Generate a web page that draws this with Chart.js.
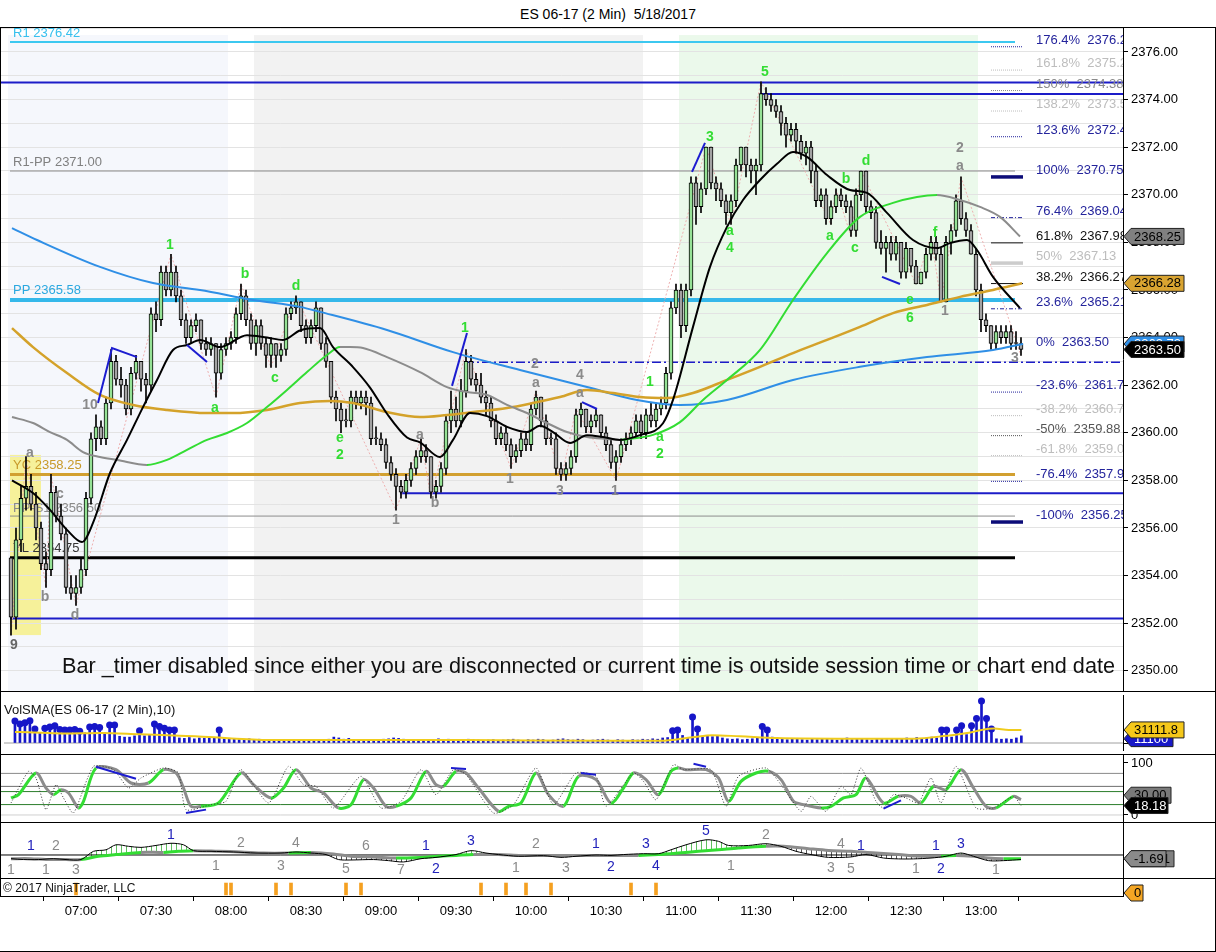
<!DOCTYPE html>
<html>
<head>
<meta charset="utf-8">
<title>ES 06-17 (2 Min) 5/18/2017</title>
<script src="https://cdn.jsdelivr.net/npm/chart.js@4.4.1/dist/chart.umd.min.js"></script>
<style>
  html, body { margin: 0; padding: 0; background: #fff; }
  #wrap { position: relative; width: 1216px; height: 952px; overflow: hidden; font-family: 'Liberation Sans', Arial, sans-serif; }
  #title { position: absolute; top: 6px; left: 0; width: 1216px; text-align: center; font-size: 14px; color: #000; }
  canvas { position: absolute; left: 0; }
  .rule { position: absolute; background: #000; }
</style>
</head>
<body>
<div id="wrap">
  <div id="title">ES 06-17 (2 Min)&nbsp; 5/18/2017</div>
  <canvas id="mainChart" width="1216" height="664" style="top:27px"></canvas>
  <canvas id="volChart" width="1216" height="63" style="top:691px"></canvas>
  <canvas id="stochChart" width="1216" height="68" style="top:754px"></canvas>
  <canvas id="macdChart" width="1216" height="56" style="top:822px"></canvas>
  <canvas id="stripChart" width="1216" height="74" style="top:878px"></canvas>
  <div class="rule" style="left:0;top:27px;width:1216px;height:1px"></div>
  <div class="rule" style="left:0;top:691px;width:1216px;height:1px"></div>
  <div class="rule" style="left:0;top:754px;width:1216px;height:1px"></div>
  <div class="rule" style="left:0;top:822px;width:1216px;height:1px"></div>
  <div class="rule" style="left:0;top:878px;width:1216px;height:1px"></div>
  <div class="rule" style="left:0;top:896px;width:1124px;height:1px"></div>
  <div class="rule" style="left:0;top:951px;width:1216px;height:1px"></div>
  <div class="rule" style="left:0;top:27px;width:1px;height:869px"></div>
  <div class="rule" style="left:1215px;top:27px;width:1px;height:925px"></div>
</div>
<script>
// time is kept in minutes after midnight, bars every 2 minutes from 06:32
const firstBarMinute = 6 * 60 + 32;
const barMinutes = 2;
const xMin = 387.6, xMax = 836.8;
const timeTicks = [420, 450, 480, 510, 540, 570, 600, 630, 660, 690, 720, 750, 780];
const priceGridLines = [2350, 2351, 2352, 2353, 2354, 2355, 2356, 2357, 2358, 2359, 2360, 2361, 2362, 2363,
  2364, 2365, 2366, 2367, 2368, 2369, 2370, 2371, 2372, 2373, 2374, 2375, 2376, 2377];

// ---- 2 min bars ----
const opens = [
  2354.75,2352.25,2355.5,2357.25,2357.75,2357.0,2356.0,2354.5,2354.25,2357.5,
  2356.5,2355.75,2353.5,2353.25,2353.5,2354.25,2357.25,2359.75,2360.25,2359.75,
  2361.25,2363.0,2362.25,2362.0,2361.0,2362.5,2363.0,2362.25,2362.0,2365.0,
  2364.75,2366.75,2366.0,2366.75,2365.75,2364.75,2364.0,2364.5,2364.75,2363.75,
  2363.5,2363.75,2362.5,2363.5,2363.75,2364.0,2365.0,2365.75,2364.75,2363.75,
  2364.5,2363.75,2363.25,2363.75,2363.25,2363.5,2365.0,2365.25,2365.5,2364.5,
  2364.0,2364.5,2365.25,2363.75,2363.0,2361.5,2361.0,2360.5,2360.5,2361.5,
  2361.25,2361.5,2361.25,2359.75,2359.75,2359.5,2358.75,2358.25,2357.75,2357.5,
  2358.0,2358.5,2359.0,2359.25,2359.0,2357.5,2357.75,2358.5,2360.5,2361.0,
  2360.5,2361.75,2363.0,2362.25,2362.0,2361.5,2361.25,2360.5,2359.75,2360.0,
  2359.5,2359.0,2359.25,2359.75,2359.5,2361.0,2361.5,2360.5,2359.75,2359.75,
  2358.5,2358.25,2358.5,2359.0,2360.75,2361.0,2360.25,2360.5,2360.75,2360.0,
  2359.5,2358.75,2359.0,2359.5,2359.75,2360.0,2360.5,2360.0,2360.75,2360.5,
  2361.0,2361.25,2362.5,2365.25,2366.0,2364.5,2366.0,2370.5,2369.5,2370.25,
  2372.0,2370.5,2370.25,2369.75,2369.25,2369.75,2371.25,2372.0,2371.25,2371.0,
  2371.25,2374.25,2374.0,2373.75,2373.5,2373.0,2372.5,2372.75,2372.25,2371.75,
  2372.0,2371.0,2369.75,2370.0,2369.0,2369.5,2370.0,2369.75,2369.5,2368.5,
  2370.0,2371.0,2369.5,2369.25,2368.0,2367.75,2368.0,2367.5,2368.0,2366.75,
  2367.75,2367.0,2366.25,2366.75,2367.5,2368.0,2367.5,2365.5,2368.0,2368.5,
  2369.75,2369.0,2368.5,2367.5,2366.0,2364.75,2364.5,2363.75,2364.25,2364.0,
  2364.25,2363.75,2363.75
];
const highs = [
  2354.75,2356.0,2357.75,2359.0,2358.25,2357.5,2356.25,2355.0,2358.25,2357.75,
  2357.0,2356.0,2354.0,2354.0,2354.75,2357.5,2360.0,2360.75,2360.5,2361.5,
  2363.5,2363.25,2362.75,2362.25,2362.75,2363.25,2363.0,2362.5,2365.25,2365.5,
  2367.0,2367.0,2367.5,2367.0,2366.0,2365.0,2364.75,2365.0,2364.75,2364.0,
  2364.0,2363.75,2363.75,2364.0,2364.25,2365.25,2366.25,2366.0,2365.0,2364.75,
  2364.75,2364.0,2364.0,2363.75,2363.75,2365.25,2365.5,2365.75,2365.5,2364.75,
  2364.75,2365.5,2365.25,2364.0,2363.0,2361.75,2361.25,2361.0,2361.75,2361.75,
  2361.75,2361.75,2361.5,2360.25,2360.0,2359.75,2359.0,2358.5,2358.0,2358.25,
  2358.75,2359.25,2359.75,2359.5,2359.0,2358.0,2358.75,2360.75,2361.75,2361.5,
  2362.25,2363.5,2363.25,2362.5,2362.5,2361.75,2361.5,2360.75,2360.25,2360.25,
  2359.75,2359.5,2360.0,2360.0,2361.25,2361.75,2361.5,2360.75,2360.0,2360.0,
  2358.75,2358.75,2359.25,2361.0,2361.25,2361.0,2360.75,2361.0,2360.75,2360.25,
  2359.75,2359.25,2359.75,2360.0,2360.25,2360.75,2360.75,2361.0,2361.25,2361.25,
  2361.5,2362.75,2365.5,2366.25,2366.25,2366.25,2370.75,2370.75,2370.5,2372.0,
  2372.0,2370.75,2370.5,2370.0,2370.0,2371.5,2372.0,2372.0,2371.5,2371.5,
  2374.75,2374.5,2374.25,2374.0,2373.75,2373.25,2373.0,2373.0,2372.5,2372.25,
  2372.25,2371.25,2370.25,2370.25,2369.75,2370.25,2370.25,2370.0,2369.75,2370.25,
  2371.0,2371.0,2369.75,2369.5,2368.5,2368.25,2368.25,2368.25,2368.0,2368.0,
  2367.75,2367.25,2366.75,2367.75,2368.25,2368.25,2367.75,2368.25,2368.75,2370.0,
  2370.75,2369.25,2368.75,2367.75,2366.25,2365.0,2364.5,2364.5,2364.5,2364.5,
  2364.5,2364.25,2364.0
];
const lows = [
  2351.5,2351.75,2355.0,2356.75,2356.75,2355.5,2354.25,2353.5,2354.0,2356.25,
  2355.5,2353.25,2353.0,2352.75,2353.25,2354.0,2357.0,2359.25,2359.5,2359.5,
  2361.0,2362.0,2361.5,2360.75,2360.75,2362.25,2361.75,2361.25,2361.75,2364.25,
  2364.5,2365.75,2365.75,2365.5,2364.5,2363.75,2363.75,2364.25,2363.5,2363.25,
  2363.25,2361.5,2362.25,2363.25,2363.5,2363.75,2364.75,2364.5,2363.5,2363.25,
  2363.5,2362.75,2362.75,2362.75,2363.0,2363.25,2364.75,2365.0,2364.25,2363.75,
  2363.75,2364.25,2363.5,2362.75,2361.25,2360.5,2360.0,2360.25,2360.25,2361.0,
  2361.0,2360.75,2359.5,2359.5,2359.25,2358.5,2358.0,2356.75,2357.25,2357.25,
  2357.75,2358.25,2358.75,2358.75,2357.25,2357.25,2357.5,2358.25,2360.0,2360.25,
  2360.25,2361.5,2362.0,2361.75,2361.25,2360.75,2360.25,2359.5,2359.5,2359.25,
  2358.5,2358.75,2359.0,2359.25,2359.25,2360.75,2360.25,2359.5,2359.5,2358.25,
  2358.0,2358.0,2358.25,2358.75,2360.25,2360.0,2360.0,2360.25,2359.75,2359.25,
  2358.5,2358.0,2358.75,2359.25,2359.5,2359.75,2359.75,2359.75,2360.25,2360.25,
  2360.75,2361.0,2362.25,2365.0,2364.0,2364.25,2365.75,2368.75,2369.25,2370.0,
  2370.25,2369.75,2369.5,2368.75,2368.75,2369.5,2371.0,2370.75,2370.5,2370.0,
  2371.0,2373.75,2373.5,2373.25,2372.5,2372.0,2372.25,2371.75,2371.5,2371.25,
  2370.5,2369.5,2369.5,2368.75,2368.75,2369.25,2369.5,2369.25,2368.25,2368.25,
  2369.75,2369.25,2369.0,2367.75,2367.5,2366.75,2367.25,2367.25,2366.5,2366.5,
  2366.75,2366.25,2366.25,2366.5,2367.25,2367.25,2365.5,2365.5,2367.5,2368.25,
  2368.75,2368.25,2367.5,2365.75,2364.25,2364.25,2363.5,2363.5,2363.75,2363.75,
  2363.5,2363.5,2363.25
];
const closes = [
  2352.25,2355.5,2357.25,2357.75,2357.0,2356.0,2354.5,2354.25,2357.5,2356.5,
  2355.75,2353.5,2353.25,2353.5,2354.25,2357.25,2359.75,2360.25,2359.75,2361.25,
  2363.0,2362.25,2362.0,2361.0,2362.5,2363.0,2362.25,2362.0,2365.0,2364.75,
  2366.75,2366.0,2366.75,2365.75,2364.75,2364.0,2364.5,2364.75,2363.75,2363.5,
  2363.75,2362.5,2363.5,2363.75,2364.0,2365.0,2365.75,2364.75,2363.75,2364.5,
  2363.75,2363.25,2363.75,2363.25,2363.5,2365.0,2365.25,2365.5,2364.5,2364.0,
  2364.5,2365.25,2363.75,2363.0,2361.5,2361.0,2360.5,2360.5,2361.5,2361.25,
  2361.5,2361.25,2359.75,2359.75,2359.5,2358.75,2358.25,2357.75,2357.5,2358.0,
  2358.5,2359.0,2359.25,2359.0,2357.5,2357.75,2358.5,2360.5,2361.0,2360.5,
  2361.75,2363.0,2362.25,2362.0,2361.5,2361.25,2360.5,2359.75,2360.0,2359.5,
  2359.0,2359.25,2359.75,2359.5,2361.0,2361.5,2360.5,2359.75,2359.75,2358.5,
  2358.25,2358.5,2359.0,2360.75,2361.0,2360.25,2360.5,2360.75,2360.0,2359.5,
  2358.75,2359.0,2359.5,2359.75,2360.0,2360.5,2360.0,2360.75,2360.5,2361.0,
  2361.25,2362.5,2365.25,2366.0,2364.5,2366.0,2370.5,2369.5,2370.25,2372.0,
  2370.5,2370.25,2369.75,2369.25,2369.75,2371.25,2372.0,2371.25,2371.0,2371.25,
  2374.25,2374.0,2373.75,2373.5,2373.0,2372.5,2372.75,2372.25,2371.75,2372.0,
  2371.0,2369.75,2370.0,2369.0,2369.5,2370.0,2369.75,2369.5,2368.5,2370.0,
  2371.0,2369.5,2369.25,2368.0,2367.75,2368.0,2367.5,2368.0,2366.75,2367.75,
  2367.0,2366.25,2366.75,2367.5,2368.0,2367.5,2365.5,2368.0,2368.5,2369.75,
  2369.0,2368.5,2367.5,2366.0,2364.75,2364.5,2363.75,2364.25,2364.0,2364.25,
  2363.75,2363.75,2363.5
];

// volume per bar, thousands of contracts
const volumes = [
  52,45,48,53,33,25,35,38,41,32, 31,31,32,28,24,38,39,37,24,43,
  43,16,14,14,17,29,17,19,45,39, 35,31,31,12,11,13,10,12,11,12,
  13,31,10,9,11,8,9,10,8,9, 7,8,7,6,7,8,6,7,6,5,
  7,6,8,9,14,12,9,11,8,7, 6,7,8,6,9,10,12,11,9,8,
  7,6,7,8,7,10,8,9,7,8, 6,9,8,7,6,7,8,6,7,8,
  9,7,6,8,7,9,8,6,7,9, 10,8,7,9,8,6,7,8,9,7,
  6,8,7,6,8,7,9,8,10,9, 12,13,29,31,18,12,62,33,14,16,
  15,16,12,10,9,10,8,9,10,12, 39,31,14,11,9,8,10,9,8,7,
  9,8,10,9,8,7,9,12,8,10, 9,8,7,9,10,8,9,11,10,12,
  11,13,10,12,14,12,31,31,14,31, 41,20,41,58,100,58,33,10,9,10,
  9,12,17
];
const volumeSpikeBars = [0,1,2,3,4,6,7,8,9,10,11,12,13,15,16,17,19,20,25,28,29,30,31,32,41,
  132,133,136,137,150,151,186,187,189,190,192,193,194,195,196];
const volSmaTimes = [392,397,411,427,442,458,472,481,497,528,574,628,651,664,672,683,698,722,753,766,775,780,785,791,796];
const volSmaValues = [26,25.5,22.8,24,20.7,17.3,13.8,10.4,6.9,6.9,6.9,5.5,5.5,13.8,18.6,15.9,11.7,10.4,10.4,17.3,24.2,31,34.5,31,31.1];

// ---- moving averages on the price pane ----
const fastMaTimes = [392.4,400.8,407.6,414.4,420.4,424.8,431.6,438.4,444.8,450.4,456.8,462.4,467.6,475.6,486.4,494.4,500.8,507.6,515.6,520.8,
  528.8,535.6,542.4,550.4,555.6,563.6,568.8,575.6,582.4,590.4,598.4,603.6,608.8,615.6,622.4,628.8,635.6,643.6,652.8,656.8,
  664.8,671.6,678.4,684.8,691.6,698.4,704.8,710.4,718.4,727.6,734.4,742.4,752.8,762.4,767.6,774.4,778.4,784.8,795.6];
const fastMaValues = [2358.0,2357.47,2356.76,2355.92,2355.41,2356.21,2358.31,2359.7,2361.08,2362.22,2363.48,2363.69,2363.9,2363.6,2364.1,2364.0,2363.9,2364.3,2364.4,2363.6,
  2362.76,2361.9,2360.8,2359.8,2359.6,2358.98,2359.7,2360.83,2360.7,2360.25,2360.03,2360.3,2360.03,2359.57,2359.9,2359.82,2359.7,2359.9,2360.4,2361.38,
  2364.45,2366.97,2368.65,2369.78,2370.62,2371.3,2371.8,2371.59,2370.83,2370.2,2370.08,2369.24,2368.1,2367.76,2367.97,2368.1,2367.68,2366.55,2365.24];
const slowMaTimes = [392.4,400.8,407.6,414.4,420.8,427.6,434.4,446.4,454.4,462.4,470.4,478.4,486.4,494.4,502.4,510.4,518.4,523.6,527.6,532.8,
  542.4,555.6,566.4,574.4,582.4,590.4,598.4,606.4,614.4,622.4,630.4,635.6,639.6,648.8,659.6,668.8,678.4,691.6,704.8,718.4,
  731.6,744.8,754.4,762.4,771.6,779.6,787.6,795.6];
const slowMaValues = [2360.66,2360.41,2360.03,2359.7,2359.19,2358.98,2358.86,2358.65,2358.86,2359.28,2359.7,2359.99,2360.41,2361.08,2361.8,2362.55,2363.27,2363.6,2363.6,2363.56,
  2363.18,2362.55,2361.92,2361.71,2361.59,2361.17,2360.83,2360.41,2360.03,2359.82,2359.74,2359.7,2359.74,2359.91,2360.45,2361.38,2362.22,2363.48,2365.58,2367.55,
  2369.07,2369.66,2369.91,2369.99,2369.78,2369.49,2369.07,2368.25];
const goldMaTimes = [392.4,400.8,414.4,427.6,440.8,454.4,470.4,480.8,494.4,507.6,519.6,528.8,542.4,555.6,566.4,576.8,590.4,600.8,611.6,622.4,
  632.8,643.6,654.4,664.8,678.4,691.6,704.8,718.4,731.6,744.8,758.4,771.6,784.8,796.4];
const goldMaValues = [2364.4,2363.6,2362.51,2361.59,2361.17,2360.96,2360.83,2360.83,2360.96,2361.25,2361.34,2361.25,2360.87,2360.66,2360.75,2360.87,2361.04,2361.25,2361.5,2361.8,
  2361.67,2361.5,2361.46,2361.67,2362.22,2362.77,2363.35,2363.9,2364.45,2365.03,2365.37,2365.71,2366.0,2366.28];
const blueMaTimes = [392.4,402.4,427.6,448.8,467.6,488.8,507.6,515.6,542.4,568.8,595.6,622.4,642.4,659.6,678.4,704.8,731.6,758.4,784.8,796.8];
const blueMaValues = [2368.6,2368.1,2366.97,2366.29,2366.0,2365.58,2365.29,2365.08,2364.32,2363.39,2362.64,2361.92,2361.38,2361.17,2361.38,2362.22,2362.77,2363.18,2363.48,2363.73];

// swing zigzag and wave counts
const zigzagTimes = [392,398,406,408,418,456,474,484,496,506,546,556,560,574,592,602,612,618,634,670,680,692,720,722,728,732,754,760,764,772,796];
const zigzagPrices = [2351.5,2359.0,2353.5,2358.25,2352.75,2367.5,2361.5,2366.25,2362.75,2365.75,2356.75,2359.75,2357.25,2363.5,2358.5,2361.75,2358.0,2361.0,2358.0,2372.0,
  2368.75,2374.75,2368.75,2370.25,2368.25,2371.0,2366.25,2368.25,2365.5,2370.75,2363.25];
const waveTexts = ['9','a','b','c','d','10','1','a','b','c','d','e','2','1','a','b','1','2','a','1','4','a','3','1',
  '1','a','2','3','a','4','5','a','b','c','d','e','6','f','1','2','a','3'];
const waveTimes = [393.2,399.6,405.6,411.6,417.6,423.6,455.6,473.6,485.6,497.6,506,523.6,523.6,546,555.6,561.6,573.6,601.6,602,591.6,619.6,619.6,611.6,633.6,
  647.6,651.6,651.6,671.6,679.6,679.6,693.6,719.6,726,729.6,734,751.6,751.6,761.6,765.6,771.6,771.6,793.6];
const wavePrices = [2351.08,2359.15,2353.1,2357.43,2352.34,2361.17,2367.9,2361.04,2366.67,2362.3,2366.17,2359.78,2359.07,2356.34,2359.91,2357.05,2364.4,2362.89,2362.09,2358.06,2362.43,2361.67,2357.55,2357.55,
  2362.13,2359.82,2359.11,2372.43,2368.48,2367.76,2375.16,2368.27,2370.66,2367.76,2371.42,2365.58,2364.82,2368.4,2365.12,2371.97,2371.21,2363.14];
const waveIsGreen = [0,0,0,0,0,0, 1,1,1,1,1,1,1, 0,0,0, 1, 0,0, 0, 0,0, 0, 0, 1,1,1, 1,1,1, 1, 1,1,1,1, 1,1, 1, 0, 0,0, 0];

// hand drawn trend strokes (time, price)
const strokeTimes = [[426.8,432.4,442.4],[462.4,470.4],[568.4,574.4],[620.4,626.4],[664.4,669.6],[740.4,747.6]];
const strokePrices = [[2361.25,2363.56,2363.18],[2363.69,2362.97],[2361.97,2364.19],[2361.29,2361.0],[2370.96,2372.18],[2366.55,2366.25]];

// pivots and swing levels
const pivotNames = ['R1','R1-PP','PP','YC','PP-S1','YL'];
const pivotValues = [2376.42, 2371.00, 2365.58, 2358.25, 2356.50, 2354.75];
const pivotStart = 391.6, pivotEnd = 793.6;
const swingLineValues = [2374.72, 2374.23, 2362.96, 2357.46, 2352.2];
const swingLineStarts = [387.6, 692, 573.6, 547.6, 391.6];
const fibPcts = ['176.4%','161.8%','150%','138.2%','123.6%','100%','76.4%','61.8%','50%','38.2%','23.6%','0%','-23.6%','-38.2%','-50%','-61.8%','-76.4%','-100%'];
const fibPrices = [2376.22,2375.24,2374.38,2373.52,2372.44,2370.75,2369.04,2367.98,2367.13,2366.27,2365.21,2363.50,2361.71,2360.72,2359.88,2359.04,2357.96,2356.25];
const fibLineStart = 784, fibLineEnd = 796.8;

// session shading and opening range box
const shadeStarts = [390.8, 489.2, 659.2];
const shadeEnds = [478.8, 644.8, 778.8];
const shadeTopPrice = 2376.71;
const highlightTimes = [391.6, 404];
const highlightPrices = [2351.5, 2359.07];

// last value markers
const mainFlagValues = [2368.25, 2366.28, 2363.73, 2363.50];
const mainFlagTexts = ['2368.25', '2366.28', '2363.73', '2363.50'];

// ---- stochastics ----
const stochSlowTimes = [392,395,402,406,409,412,415,419,421,426,434,440,447,453,458,461,464,468,475,484,
  489,496,501,506,512,517,523,528,533,537,542,546,552,558,562,565,570,574,579,587,591,596,602,607,613,619,626,
  632,637,641,646,651,656,659,662,670,675,679,684,690,695,700,705,709,716,720,725,730,734,741,747,752,756,761,766,772,777,782,786,793,796];
const stochSlowValues = [32.7,39.1,80.8,51.9,39.1,48.7,42.3,13.5,26.3,90.4,87.2,61.5,61.5,87.2,80.8,51.9,16.7,16.7,23.1,80.8,
  58.3,32.7,51.9,87.2,51.9,42.3,13.5,19.9,68,51.9,16.7,16.7,32.7,84,58.3,55.1,84,80.8,51.9,7,16.7,23.1,80.8,39.1,16.7,74.4,68,
  23.1,51.9,80.8,68,39.1,84,90.4,87.2,87.2,71.2,26.3,64.7,80.8,84,68,26.3,19.9,13.5,16.7,32.7,39.1,71.2,23.1,35.9,35.9,23.1,55.1,48.7,87.2,51.9,16.7,13.5,35.9,29.5];
const stochFastTimes = [392,399,402,406,410,413,417,425,433,439,444,453,459,462,472,478,484,495,503,509,514,521,532,540,548,556,562,569,574,585,593,602,609,618,626,630,
  641,645,650,657,661,672,678,683,694,700,708,712,718,724,728,732,738,741,745,750,755,760,764,770,778,785,793,796];
const stochFastValues = [23.1,84,71.2,10.3,58.3,32.7,3.8,93.6,87.2,51.9,71.2,90.4,80.8,10.3,19.9,26.3,87.2,23.1,93.6,58.3,55.1,13.5,74.4,13.5,26.3,87.2,39.1,87.2,77.6,3.8,19.9,90.4,19.9,80.8,74.4,16.7,
  80.8,64.7,29.5,96.8,87.2,87.2,16.7,74.4,90.4,58.3,7,35.9,7,55.1,39.1,90.4,26.3,13.5,39.1,32.7,23.1,71.2,23.1,93.6,13.5,13.5,35.9,18.18];
const stochStrokeTimes = [[426,442],[462,470],[568,574],[620,626],[665,670],[741,748]];
const stochStrokeValues = [[92.9,69.8],[3.8,10.3],[90.4,88.5],[80.8,77.6],[98.7,92.9],[12.2,28.2]];
const stochLevels = [80, 55, 45, 20, 0];

// ---- MACD ----
const macdTimes = [392,397,403,409,414,420,425,430,434,439,444,450,456,461,465,472,481,490,500,506,512,518,523,528,537,543,549,556,562,570,
  576,582,587,595,605,612,618,626,632,637,645,651,656,662,670,675,679,687,694,700,706,712,719,728,734,741,747,753,760,766,772,777,783,789,796];
const macdValues = [-1.7,-2.1,-2.1,-1.7,-2.1,-2.1,1.7,2.4,4.7,4.0,3.5,4.4,5.4,4.7,2.0,1.7,1.4,0.9,0.9,1.4,0.9,0.2,-2.1,-2.3,-2.1,-2.6,-3.2,-1.7,-1.1,0.2,
  2.0,0.9,0.2,-0.6,-0.3,-1.1,-0.6,0,-0.2,0.2,0.6,0.6,2.4,4.7,7.0,6.3,4.4,4.4,5.2,4.0,1.7,0.2,-1.1,-0.9,0.2,-1.4,-1.8,-1.8,-1.4,-0.6,0.9,-0.6,-2.6,-2.6,-2.1];
const signalTimes = [392,400,406,414,420,427,434,444,453,459,465,475,484,493,503,512,521,528,537,546,556,563,570,577,587,596,605,615,626,632,
  643,651,659,667,675,683,694,701,711,719,728,738,747,756,764,770,777,783,789,796];
const signalValues = [-1.7,-1.7,-2.1,-2.1,-2.1,-0.6,0.2,1.2,1.2,1.7,2.0,1.7,1.4,0.9,0.9,1.2,0.5,-0.6,-0.9,-1.4,-1.1,-0.6,-0.2,0.2,0.2,-0.2,-0.2,-0.2,-0.2,-0.2,
  -0.2,0.2,0.9,1.7,2.4,3.2,4.0,4.0,2.9,2.1,1.7,0.9,0.2,-0.6,-0.6,-0.2,-0.6,-1.4,-1.7,-1.69];
const macdLabelTexts = ['1','2','1','1','3','1','2','1','3','4','6','5','7','1','2','3','2','1','3','1','2','3','4','5','1','2','3','5','4','1','1','1','2','3','1'];
const macdLabelTimes = [400,410,392,406,418,456,484,474,500,506,534,526,548,558,562,576,602,594,614,626,632,646,650,670,680,694,720,728,724,732,754,762,764,772,786];
const macdLabelValues = [4.0,4.0,-7.2,-7.2,-7.2,9.3,5.5,-5.2,-5.2,5.5,4.0,-6.7,-7.2,4.0,-6.7,6.3,4.8,-6.0,-6.0,4.8,-5.7,5.1,-5.2,10.9,-5.2,9.3,-6.0,-6.4,4.8,4.0,-6.7,4.0,-6.4,5.1,-7.2];
const macdLabelBlue = [1,0,0,0,0,1,0,0,0,0,0,0,0,1,1,1,0,0,0,1,1,1,1,1,0,0,0,0,0,1,0,1,1,1,0];

// ---- alert strip ----
const alertTimes = [418,478,480,498,504,526,532,580,590,598,608,640,650];

// ---------------------------------------------------------------
const FONT = "'Liberation Sans', Arial, sans-serif";
const GREEN = '#33dd33', GREY = '#8c8c8c';
const STYLE = {
  shade: ['#f5f7fc', '#f2f2f2', '#ebf9eb'],
  pivots: [
    { line: '#3cc8f0', width: 2, text: '#36c0ee' },
    { line: '#8c8c8c', width: 1.2, text: '#808080' },
    { line: '#35b8ea', width: 4, text: '#2aa8e0' },
    { line: '#d2a030', width: 3, text: '#c89a2a' },
    { line: '#8c8c8c', width: 1, text: '#8a8a8a' },
    { line: '#000000', width: 3, text: '#333333' }
  ],
  swingDash: [[], [], [9, 3, 2, 3], [], []],
  fib: {
    '176.4%': ['#24249c', 'dot', '#24249c'], '161.8%': ['#bdbdbd', 'dot', '#bdbdbd'],
    '150%': ['#8a8a8a', 'dot', '#8a8a8a'], '138.2%': ['#bdbdbd', 'dot', '#bdbdbd'],
    '123.6%': ['#24249c', 'dot', '#24249c'], '100%': ['#24249c', 'thick', '#0c0c78'],
    '76.4%': ['#24249c', 'dashdot', '#24249c'], '61.8%': ['#111111', 'solid', '#111111'],
    '50%': ['#bdbdbd', 'thick', '#cccccc'], '38.2%': ['#111111', 'solid', '#111111'],
    '23.6%': ['#24249c', 'dashdot', '#24249c'], '0%': ['#24249c', 'none', '#24249c'],
    '-23.6%': ['#24249c', 'dot', '#24249c'], '-38.2%': ['#bdbdbd', 'dot', '#bdbdbd'],
    '-50%': ['#555555', 'dot', '#555555'], '-61.8%': ['#bdbdbd', 'dot', '#bdbdbd'],
    '-76.4%': ['#24249c', 'dot', '#24249c'], '-100%': ['#24249c', 'thick', '#0c0c78']
  },
  mainFlags: [['#808080', '#000'], ['#d9a431', '#000'], ['#2f8fe8', '#fff'], ['#000000', '#fff']]
};

Chart.defaults.font.family = FONT;
Chart.defaults.font.size = 13;
Chart.defaults.color = '#000';
Chart.defaults.animation = false;
Chart.defaults.plugins.legend.display = false;
Chart.defaults.plugins.tooltip.enabled = false;

const barTimes = opens.map((_, i) => firstBarMinute + i * barMinutes);
const xy = (ts, vs) => ts.map((t, i) => ({ x: t, y: vs[i] }));
const hhmm = v => String(Math.floor(v / 60)).padStart(2, '0') + ':' + String(v % 60).padStart(2, '0');
const risingColor = c => (c.p1.parsed.y > c.p0.parsed.y ? GREEN : GREY);

function timeAxis() {
  return { type: 'linear', min: xMin, max: xMax, offset: false, display: false };
}
function valueAxis(min, max, tickValues, gridOpts, tickOpts) {
  return {
    type: 'linear', position: 'right', min: min, max: max,
    border: { display: true, color: '#000', width: 1 },
    grid: Object.assign({ drawOnChartArea: false, drawTicks: true, tickLength: 5, color: '#000' }, gridOpts || {}),
    ticks: Object.assign({ padding: 3, autoSkip: false, color: '#000', font: { size: 13 } }, tickOpts || {}),
    afterBuildTicks: s => { s.ticks = tickValues.map(v => ({ value: v })); },
    afterFit: s => { s.width = 93; s.paddingTop = 0; s.paddingBottom = 0; }
  };
}
function drawFlag(ctx, x, yc, text, fill, ink, w) {
  const h = 16;
  ctx.save();
  ctx.beginPath();
  ctx.moveTo(x, yc);
  ctx.lineTo(x + 7, yc - h / 2);
  ctx.lineTo(x + w, yc - h / 2);
  ctx.lineTo(x + w, yc + h / 2);
  ctx.lineTo(x + 7, yc + h / 2);
  ctx.closePath();
  ctx.fillStyle = fill;
  ctx.fill();
  ctx.strokeStyle = '#222';
  ctx.lineWidth = 1;
  ctx.stroke();
  ctx.fillStyle = ink;
  ctx.font = '13px ' + FONT;
  ctx.textAlign = 'left';
  ctx.textBaseline = 'middle';
  ctx.fillText(text, x + 10, yc + 0.5);
  ctx.restore();
}
function hLine(ctx, x0, x1, y, color, width, dash) {
  ctx.save();
  ctx.strokeStyle = color;
  ctx.lineWidth = width;
  ctx.setLineDash(dash || []);
  ctx.beginPath();
  ctx.moveTo(x0, y);
  ctx.lineTo(x1, y);
  ctx.stroke();
  ctx.restore();
}
function clipArea(ctx, a) {
  ctx.beginPath();
  ctx.rect(a.left, a.top, a.right - a.left, a.bottom - a.top);
  ctx.clip();
}

// ================= price pane =================
const mainDeco = {
  id: 'mainDeco',
  beforeDraw(chart) {
    const { ctx, chartArea: a, scales: { x, y } } = chart;
    ctx.save();
    const top = y.getPixelForValue(shadeTopPrice);
    shadeStarts.forEach((s, i) => {
      const x0 = x.getPixelForValue(s), x1 = x.getPixelForValue(shadeEnds[i]);
      ctx.fillStyle = STYLE.shade[i];
      ctx.fillRect(x0, top, x1 - x0, a.bottom - top);
    });
    const hx0 = x.getPixelForValue(highlightTimes[0]), hx1 = x.getPixelForValue(highlightTimes[1]);
    const hy0 = y.getPixelForValue(highlightPrices[1]), hy1 = y.getPixelForValue(highlightPrices[0]);
    ctx.fillStyle = '#f6f19a';
    ctx.fillRect(hx0, hy0, hx1 - hx0, hy1 - hy0);
    ctx.restore();
  },
  beforeDatasetsDraw(chart) {
    const { ctx, chartArea: a, scales: { x, y } } = chart;
    ctx.save();
    clipArea(ctx, a);
    const px0 = x.getPixelForValue(pivotStart), px1 = x.getPixelForValue(pivotEnd);
    pivotValues.forEach((v, i) => {
      const st = STYLE.pivots[i];
      const py = y.getPixelForValue(v);
      hLine(ctx, px0, px1, py, st.line, st.width);
      ctx.fillStyle = st.text;
      ctx.font = '13px ' + FONT;
      ctx.textAlign = 'left';
      ctx.textBaseline = 'alphabetic';
      ctx.fillText(pivotNames[i] + ' ' + v.toFixed(2), a.left + 13, py - st.width / 2 - 4);
    });
    swingLineValues.forEach((v, i) => {
      const dashed = STYLE.swingDash[i].length > 0;
      hLine(ctx, x.getPixelForValue(swingLineStarts[i]), a.right, y.getPixelForValue(v), '#1c1cc8', dashed ? 1.5 : 2, STYLE.swingDash[i]);
    });
    const fx0 = x.getPixelForValue(fibLineStart), fx1 = x.getPixelForValue(fibLineEnd);
    fibPcts.forEach((p, i) => {
      const st = STYLE.fib[p];
      const py = y.getPixelForValue(fibPrices[i]);
      if (st[1] === 'dot') hLine(ctx, fx0, fx1, py, st[2], 1, [1, 1]);
      else if (st[1] === 'thick') hLine(ctx, fx0, fx1, py, st[2], 3.5);
      else if (st[1] === 'solid') hLine(ctx, fx0, fx1, py, st[2], 1);
      else if (st[1] === 'dashdot') hLine(ctx, fx0, fx1, py, st[2], 1, [4, 2, 1, 2]);
    });
    ctx.restore();
  },
  afterDatasetsDraw(chart) {
    const { ctx, chartArea: a, scales: { x, y } } = chart;
    ctx.save();
    clipArea(ctx, a);
    ctx.font = 'bold 14px ' + FONT;
    ctx.textAlign = 'center';
    ctx.textBaseline = 'middle';
    waveTexts.forEach((s, i) => {
      ctx.fillStyle = waveIsGreen[i] ? GREEN : (s === '9' ? '#666' : '#8a8a8a');
      ctx.fillText(s, x.getPixelForValue(waveTimes[i]), y.getPixelForValue(wavePrices[i]));
    });
    ctx.font = '13px ' + FONT;
    ctx.textAlign = 'left';
    ctx.textBaseline = 'alphabetic';
    fibPcts.forEach((p, i) => {
      ctx.fillStyle = STYLE.fib[p][0];
      ctx.fillText(p + '  ' + fibPrices[i].toFixed(2), a.right - 87, y.getPixelForValue(fibPrices[i]) - 3);
    });
    const msg = 'Bar _timer disabled since either you are disconnected or current time is outside session time or chart end date';
    ctx.font = '20px ' + FONT;
    const size = 20 * 1053 / ctx.measureText(msg).width;
    ctx.font = size.toFixed(2) + 'px ' + FONT;
    ctx.fillStyle = '#111';
    ctx.textBaseline = 'middle';
    ctx.fillText(msg, 62, a.bottom - 24);
    ctx.restore();
  },
  afterDraw(chart) {
    const { ctx, chartArea: a, scales: { y } } = chart;
    mainFlagValues.forEach((v, i) => {
      drawFlag(ctx, a.right + 1, y.getPixelForValue(v), mainFlagTexts[i], STYLE.mainFlags[i][0], STYLE.mainFlags[i][1], 60);
    });
  }
};

const wickData = barTimes.map((t, i) => ({ x: t, y: [lows[i], highs[i]] }));
const bodyData = barTimes.map((t, i) => ({ x: t, y: [opens[i], closes[i]] }));
const bodyColors = barTimes.map((t, i) => (closes[i] > opens[i] ? '#96e296' : '#a3a3a3'));

const mainDatasets = [
  { type: 'bar', data: wickData, backgroundColor: '#000', barThickness: 1, grouped: false, order: 8 },
  { type: 'bar', data: bodyData, backgroundColor: bodyColors, borderColor: '#000', borderWidth: 1,
    borderSkipped: false, barThickness: 4, minBarLength: 1, grouped: false, order: 7 },
  { type: 'line', data: xy(zigzagTimes, zigzagPrices), borderColor: '#eeb0b0', borderWidth: 1, borderDash: [2, 2],
    pointRadius: 0, order: 9 },
  { type: 'line', data: xy(blueMaTimes, blueMaValues), borderColor: '#2f8fe6', borderWidth: 2, pointRadius: 0,
    cubicInterpolationMode: 'monotone', order: 5 },
  { type: 'line', data: xy(goldMaTimes, goldMaValues), borderColor: '#d4a22a', borderWidth: 2.5, pointRadius: 0,
    cubicInterpolationMode: 'monotone', order: 4 },
  { type: 'line', data: xy(slowMaTimes, slowMaValues), borderColor: GREEN, borderWidth: 2, pointRadius: 0,
    cubicInterpolationMode: 'monotone', segment: { borderColor: risingColor }, order: 3 },
  { type: 'line', data: xy(fastMaTimes, fastMaValues), borderColor: '#000', borderWidth: 2, pointRadius: 0,
    cubicInterpolationMode: 'monotone', order: 2 }
].concat(strokeTimes.map((ts, i) => ({
  type: 'line', data: xy(ts, strokePrices[i]), borderColor: '#1c1cd0', borderWidth: 2, pointRadius: 0, order: 1
})));

new Chart(document.getElementById('mainChart'), {
  type: 'line',
  data: { datasets: mainDatasets },
  options: {
    responsive: false,
    layout: { padding: 0 },
    scales: {
      x: timeAxis(),
      y: valueAxis(2349.15, 2377.05, priceGridLines,
        { drawOnChartArea: true, color: '#e3e3e3',
          tickColor: c => (c.tick && c.tick.value % 2 === 0 ? '#000' : 'rgba(0,0,0,0)') },
        { callback: v => (v % 2 === 0 ? v.toFixed(2) : '') })
    }
  },
  plugins: [mainDeco]
});

// ================= volume pane =================
const volDeco = {
  id: 'volDeco',
  beforeDatasetsDraw(chart) {
    const { ctx, chartArea: a, scales: { y } } = chart;
    hLine(ctx, a.left, a.right, y.getPixelForValue(0), '#a0a0a0', 1);
  },
  afterDraw(chart) {
    const { ctx, chartArea: a, scales: { y } } = chart;
    ctx.save();
    ctx.font = '13px ' + FONT;
    ctx.fillStyle = '#111';
    ctx.textBaseline = 'middle';
    ctx.fillText('VolSMA(ES 06-17 (2 Min),10)', 4, 19);
    ctx.restore();
    drawFlag(ctx, a.right + 1, y.getPixelForValue(10.4), '11100', '#1818c8', '#fff', 49);
    drawFlag(ctx, a.right + 1, y.getPixelForValue(volSmaValues[volSmaValues.length - 1]), '31111.8', '#f5c81a', '#000', 60);
  }
};
new Chart(document.getElementById('volChart'), {
  type: 'line',
  data: {
    datasets: [
      { type: 'bar', data: barTimes.map((t, i) => ({ x: t, y: volumes[i] })), backgroundColor: '#1616c8',
        barThickness: 2, grouped: false, order: 3 },
      { type: 'line', data: volumeSpikeBars.map(i => ({ x: barTimes[i], y: volumes[i] })), showLine: false,
        pointRadius: 3.5, pointBackgroundColor: '#1616c8', pointBorderWidth: 0, order: 2 },
      { type: 'line', data: xy(volSmaTimes, volSmaValues), borderColor: '#f0cc1c', borderWidth: 2, pointRadius: 0,
        cubicInterpolationMode: 'monotone', order: 1 }
    ]
  },
  options: {
    responsive: false,
    layout: { padding: 0 },
    scales: { x: timeAxis(), y: valueAxis(-16.6, 114, [0]) }
  },
  plugins: [volDeco]
});

// ================= stochastics pane =================
const stochDeco = {
  id: 'stochDeco',
  beforeDatasetsDraw(chart) {
    const { ctx, chartArea: a, scales: { y } } = chart;
    const colors = ['#8a8a8a', '#6e6e6e', '#2b7d2b', '#2b7d2b', '#d0d0d0'];
    stochLevels.forEach((v, i) => hLine(ctx, a.left, a.right, y.getPixelForValue(v), colors[i], 1));
  },
  afterDraw(chart) {
    const { ctx, chartArea: a, scales: { y } } = chart;
    drawFlag(ctx, a.right + 1, y.getPixelForValue(38), '30.00', '#7a7a7a', '#000', 47);
    drawFlag(ctx, a.right + 1, y.getPixelForValue(18.18), '18.18', '#000', '#fff', 44);
  }
};
new Chart(document.getElementById('stochChart'), {
  type: 'line',
  data: {
    datasets: [
      { data: xy(stochSlowTimes, stochSlowValues), borderColor: GREEN, borderWidth: 3, pointRadius: 0, tension: 0.3,
        segment: { borderColor: risingColor }, order: 3 },
      { data: xy(stochFastTimes, stochFastValues), borderColor: '#333', borderWidth: 1, borderDash: [1, 2],
        pointRadius: 0, tension: 0.2, order: 2 }
    ].concat(stochStrokeTimes.map((ts, i) => ({
      data: xy(ts, stochStrokeValues[i]), borderColor: '#1c1cd0', borderWidth: 2, pointRadius: 0, order: 1
    })))
  },
  options: {
    responsive: false,
    layout: { padding: 0 },
    scales: { x: timeAxis(), y: valueAxis(-13.5, 117.3, [0, 100]) }
  },
  plugins: [stochDeco]
});

// ================= MACD pane =================
function hatch(color) {
  const c = document.createElement('canvas');
  c.width = 5; c.height = 4;
  const g = c.getContext('2d');
  g.fillStyle = color;
  g.fillRect(1, 0, 1, 4);
  return g.createPattern(c, 'repeat');
}
const macdDeco = {
  id: 'macdDeco',
  beforeDatasetsDraw(chart) {
    const { ctx, chartArea: a, scales: { y } } = chart;
    hLine(ctx, a.left, a.right, y.getPixelForValue(0), '#000', 1);
  },
  afterDatasetsDraw(chart) {
    const { ctx, chartArea: a, scales: { x, y } } = chart;
    ctx.save();
    clipArea(ctx, a);
    ctx.font = '14px ' + FONT;
    ctx.textAlign = 'center';
    ctx.textBaseline = 'middle';
    macdLabelTexts.forEach((s, i) => {
      ctx.fillStyle = macdLabelBlue[i] ? '#2222bb' : '#8a8a8a';
      ctx.fillText(s, x.getPixelForValue(macdLabelTimes[i]), y.getPixelForValue(macdLabelValues[i]));
    });
    ctx.restore();
  },
  afterDraw(chart) {
    const { ctx, chartArea: a, scales: { y } } = chart;
    drawFlag(ctx, a.right + 1, y.getPixelForValue(-1.75), '-1.711', '#808080', '#000', 50);
    drawFlag(ctx, a.right + 1, y.getPixelForValue(-1.69), '-1.69', '#8a8a8a', '#000', 42);
  }
};
new Chart(document.getElementById('macdChart'), {
  type: 'line',
  data: {
    datasets: [
      { data: xy(macdTimes, macdValues), borderColor: '#000', borderWidth: 1, pointRadius: 0, tension: 0.3,
        fill: { target: '+1', above: hatch('#5fbf5f'), below: hatch('#555555') }, order: 1 },
      { data: xy(signalTimes, signalValues), borderColor: GREEN, borderWidth: 3, pointRadius: 0, tension: 0.3,
        segment: { borderColor: risingColor }, order: 2 }
    ]
  },
  options: {
    responsive: false,
    layout: { padding: 0 },
    plugins: { filler: { drawTime: 'beforeDatasetsDraw' } },
    scales: { x: timeAxis(), y: valueAxis(-10.6, 15.2, []) }
  },
  plugins: [macdDeco]
});

// ================= alert strip + time axis =================
const stripDeco = {
  id: 'stripDeco',
  afterDraw(chart) {
    const { ctx, chartArea: a } = chart;
    ctx.save();
    ctx.font = '12px ' + FONT;
    ctx.fillStyle = '#111';
    ctx.textBaseline = 'middle';
    ctx.fillText('\u00a9 2017 NinjaTrader, LLC', 3, 11);
    ctx.restore();
    drawFlag(ctx, a.right + 1, 15, '0', '#f5a623', '#000', 19);
  }
};
new Chart(document.getElementById('stripChart'), {
  type: 'line',
  data: {
    datasets: [
      { type: 'bar', data: alertTimes.map(t => ({ x: t, y: [0.06, 0.72] })), backgroundColor: '#f5a020',
        barThickness: 3, grouped: false }
    ]
  },
  options: {
    responsive: false,
    layout: { padding: 0 },
    scales: {
      x: {
        type: 'linear', min: xMin, max: xMax, offset: false, position: 'bottom',
        border: { display: false },
        grid: { drawOnChartArea: false, drawTicks: true, tickLength: 5, color: '#000' },
        ticks: { autoSkip: false, maxRotation: 0, padding: 3, color: '#000', font: { size: 13 }, callback: v => hhmm(v) },
        afterBuildTicks: s => { s.ticks = timeTicks.map(v => ({ value: v })); },
        afterFit: s => { s.height = 56; s.paddingLeft = 0; s.paddingRight = 0; }
      },
      y: valueAxis(0, 1, [])
    }
  },
  plugins: [stripDeco]
});
</script>
</body>
</html>
